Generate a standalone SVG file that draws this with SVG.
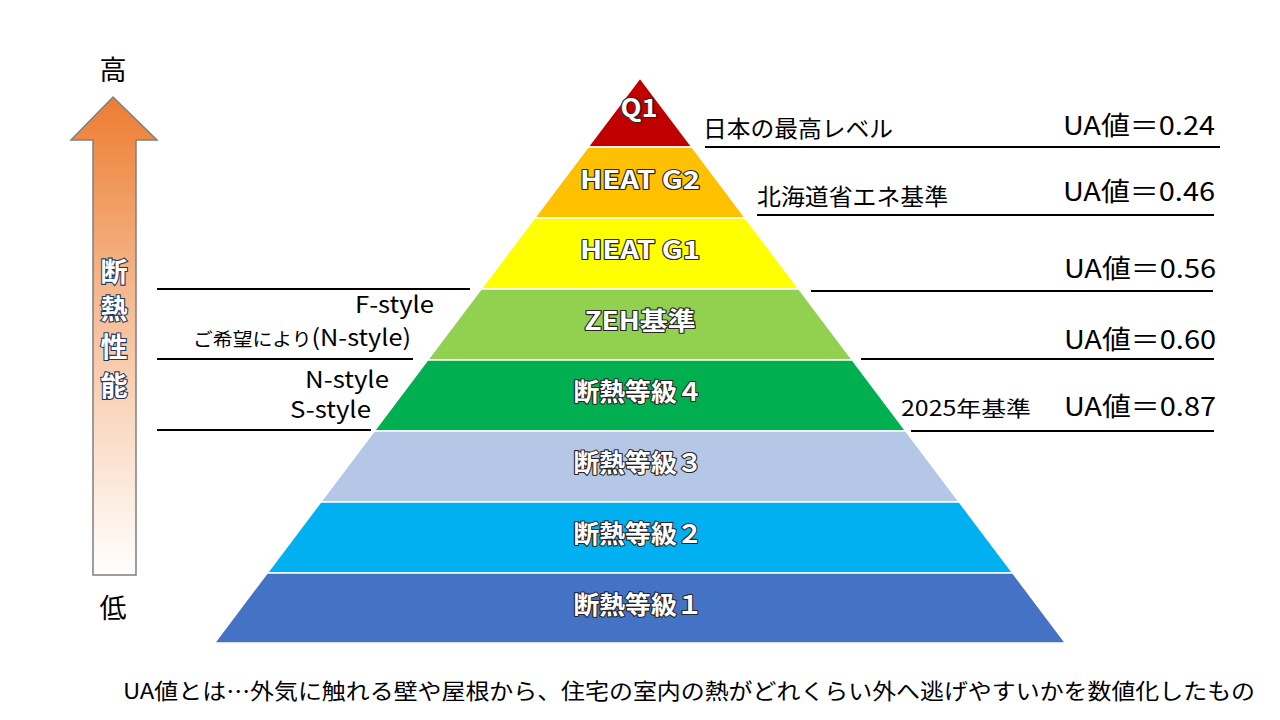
<svg xmlns="http://www.w3.org/2000/svg" width="1280" height="720" viewBox="0 0 1280 720">
<defs>
<linearGradient id="arrowGrad" x1="0" y1="97" x2="0" y2="575" gradientUnits="userSpaceOnUse">
<stop offset="0" stop-color="#ED7D31"/>
<stop offset="0.45" stop-color="#F6BE97"/>
<stop offset="1" stop-color="#FFFFFF"/>
</linearGradient>
</defs>
<style>
text{font-family:"Noto Sans CJK JP","Noto Sans",sans-serif;}
.band{stroke:#FFFFFF;stroke-width:1.5;}
.bl{font-size:25px;font-weight:bold;fill:#FFFFFF;stroke:#262626;stroke-width:2.2;paint-order:stroke fill;stroke-linejoin:round;text-anchor:middle;}
.lbl{font-size:23px;fill:#000000;}
.ua{font-size:26px;fill:#000000;text-anchor:end;}
.rule{stroke:#000000;stroke-width:2;}
.vt{font-size:27px;font-weight:bold;fill:#FFFFFF;stroke:#1F3864;stroke-width:2.2;paint-order:stroke fill;text-anchor:middle;}
</style>
<rect width="1280" height="720" fill="#FFFFFF"/>

<g id="arrow">
<path d="M113,97 L157,140 L136,140 L136,575 L93,575 L93,140 L71,140 Z" fill="url(#arrowGrad)" stroke="#7F7F7F" stroke-width="1.5"/>
<text class="vt" x="114" y="282">断</text>
<text class="vt" x="114" y="319">熱</text>
<text class="vt" x="114" y="357">性</text>
<text class="vt" x="114" y="396">能</text>
</g>
<g id="label-high"><text x="113" y="80" font-size="27" text-anchor="middle" fill="#000">高</text></g>
<g id="label-low"><text x="113" y="618" font-size="27" text-anchor="middle" fill="#000">低</text></g>

<g id="band-q1"><polygon class="band" points="640,78 692,147 588,147" fill="#C00000"/><text class="bl" x="639" y="117" textLength="37" lengthAdjust="spacingAndGlyphs">Q1</text></g>
<g id="band-heatg2"><polygon class="band" points="588,147 692,147 745.4,218 534.6,218" fill="#FFC000"/><text class="bl" x="640" y="189" textLength="120" lengthAdjust="spacingAndGlyphs">HEAT G2</text></g>
<g id="band-heatg1"><polygon class="band" points="534.6,218 745.4,218 798.9,289 481.1,289" fill="#FFFF00"/><text class="bl" x="640" y="259" textLength="120" lengthAdjust="spacingAndGlyphs">HEAT G1</text></g>
<g id="band-zeh"><polygon class="band" points="481.1,289 798.9,289 852.4,360 427.6,360" fill="#92D050"/><text class="bl" x="640" y="330" textLength="111" lengthAdjust="spacingAndGlyphs">ZEH基準</text></g>
<g id="band-grade4"><polygon class="band" points="427.6,360 852.4,360 905.8,431 374.2,431" fill="#00B050"/><text class="bl" x="638" y="401" textLength="129" lengthAdjust="spacingAndGlyphs">断熱等級４</text></g>
<g id="band-grade3"><polygon class="band" points="374.2,431 905.8,431 959.3,502 320.7,502" fill="#B4C7E7"/><text class="bl" x="638" y="472" textLength="129" lengthAdjust="spacingAndGlyphs">断熱等級３</text></g>
<g id="band-grade2"><polygon class="band" points="320.7,502 959.3,502 1012.8,573 267.2,573" fill="#00B0F0"/><text class="bl" x="638" y="543" textLength="129" lengthAdjust="spacingAndGlyphs">断熱等級２</text></g>
<g id="band-grade1"><polygon class="band" points="267.2,573 1012.8,573 1065.5,643 214.5,643" fill="#4472C4"/><text class="bl" x="638" y="614" textLength="129" lengthAdjust="spacingAndGlyphs">断熱等級１</text></g>

<g id="connectors">
<line class="rule" x1="705" y1="147" x2="1220" y2="147"/>
<line class="rule" x1="757" y1="215" x2="1214" y2="215"/>
<line class="rule" x1="811" y1="291" x2="1213" y2="291"/>
<line class="rule" x1="861" y1="359" x2="1214" y2="359"/>
<line class="rule" x1="911" y1="431" x2="1214" y2="431"/>
<line class="rule" x1="157" y1="289" x2="470" y2="289"/>
<line class="rule" x1="157" y1="359" x2="413" y2="359"/>
<line class="rule" x1="157" y1="430" x2="371" y2="430"/>
</g>

<g id="right-labels">
<text class="lbl" x="703" y="137" textLength="190" lengthAdjust="spacingAndGlyphs">日本の最高レベル</text>
<text class="ua" x="1215" y="135" textLength="152" lengthAdjust="spacingAndGlyphs">UA値＝0.24</text>
<text class="lbl" x="757" y="205" textLength="191" lengthAdjust="spacingAndGlyphs">北海道省エネ基準</text>
<text class="ua" x="1215" y="201" textLength="152" lengthAdjust="spacingAndGlyphs">UA値＝0.46</text>
<text class="ua" x="1216" y="278" textLength="152" lengthAdjust="spacingAndGlyphs">UA値＝0.56</text>
<text class="ua" x="1216" y="349" textLength="152" lengthAdjust="spacingAndGlyphs">UA値＝0.60</text>
<text x="901" y="416" font-size="21" fill="#000" textLength="130" lengthAdjust="spacingAndGlyphs">2025年基準</text>
<text class="ua" x="1216" y="416" textLength="152" lengthAdjust="spacingAndGlyphs">UA値＝0.87</text>
</g>

<g id="left-labels">
<text x="434" y="313" font-size="23" fill="#000" text-anchor="end" textLength="79" lengthAdjust="spacingAndGlyphs">F-style</text>
<text x="411" y="346" fill="#000" text-anchor="end" textLength="218" lengthAdjust="spacingAndGlyphs"><tspan font-size="18">ご希望により</tspan><tspan font-size="23">(N-style)</tspan></text>
<text x="389" y="388" font-size="23" fill="#000" text-anchor="end" textLength="84" lengthAdjust="spacingAndGlyphs">N-style</text>
<text x="371" y="418" font-size="23" fill="#000" text-anchor="end" textLength="81" lengthAdjust="spacingAndGlyphs">S-style</text>
</g>

<g id="footnote">
<text x="123" y="699" font-size="22" fill="#000" textLength="1132" lengthAdjust="spacingAndGlyphs">UA値とは…外気に触れる壁や屋根から、住宅の室内の熱がどれくらい外へ逃げやすいかを数値化したもの</text>
</g>
</svg>
